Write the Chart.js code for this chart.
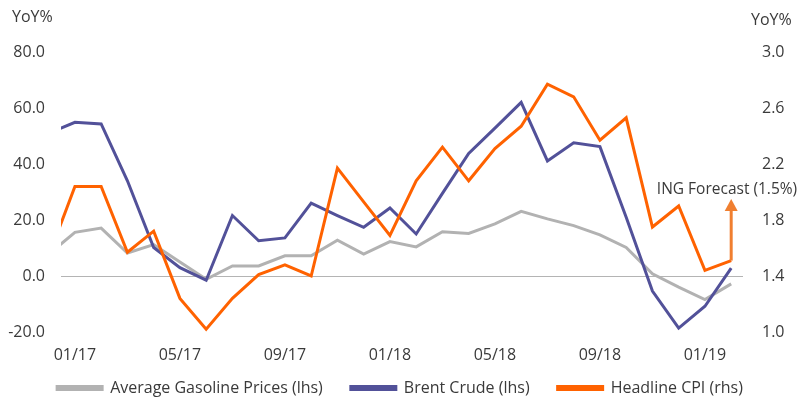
<!DOCTYPE html>
<html>
<head>
<meta charset="utf-8">
<script src="https://cdn.jsdelivr.net/npm/chart.js@4.4.1/dist/chart.umd.min.js"></script>
<style>
  html, body { margin: 0; padding: 0; background: #ffffff; }
  #wrap { width: 800px; height: 406px; position: relative; }
</style>
</head>
<body>
<div id="wrap"><canvas id="c" width="800" height="406"></canvas></div>
<script>
// Month labels, index -1 = 12/16 ... index 25 = 02/19
const months = ["12/16","01/17","02/17","03/17","04/17","05/17","06/17","07/17","08/17","09/17","10/17","11/17","12/17",
                "01/18","02/18","03/18","04/18","05/18","06/18","07/18","08/18","09/18","10/18","11/18","12/18",
                "01/19","02/19"];
const tickMonths = ["01/17","05/17","09/17","01/18","05/18","09/18","01/19"];

// Average Gasoline Prices, YoY% (lhs)
const gasoline = [7.7, 15.6, 17.1, 8.2, 11.2, 5.0, -1.2, 3.6, 3.6, 7.2, 7.2, 12.8, 7.8, 12.3, 10.4, 15.8, 15.2, 18.6, 23.1, 20.4, 18.0, 14.7, 10.2, 0.8, -4.0, -8.4, -2.8];
// Brent Crude, YoY% (lhs)
const brent = [50.9, 54.9, 54.3, 34.0, 10.2, 3.0, -1.5, 21.6, 12.6, 13.6, 26.0, 21.6, 17.4, 24.3, 15.0, 29.5, 43.8, 52.8, 62.0, 41.1, 47.6, 46.2, 21.0, -5.4, -18.6, -10.8, 2.8];
// Headline CPI, YoY% (rhs)
const cpi = [1.54, 2.04, 2.04, 1.57, 1.72, 1.24, 1.02, 1.24, 1.41, 1.48, 1.40, 2.17, 1.93, 1.69, 2.08, 2.32, 2.08, 2.31, 2.47, 2.77, 2.68, 2.37, 2.53, 1.75, 1.90, 1.44, 1.51];

// ING forecast arrow (rhs): from last CPI reading up to the tip
const forecastMonth = "02/19";
const forecastFrom = 1.51;
const forecastTip = 1.95;
const forecastText = "ING Forecast (1.5%)";

const leftTicks = [-20, 0, 20, 40, 60, 80];
const rightTicks = [1.0, 1.4, 1.8, 2.2, 2.6, 3.0];

const FONT = "'Open Sans', 'Noto Sans', sans-serif";
const TXT = "#3a3a3a";
const FS = 16;

function toPoints(arr) {
  return arr.map((v, i) => ({ x: i - 1, y: v }));
}
const tickIdx = tickMonths.map(m => months.indexOf(m) - 1);

const extras = {
  id: 'extras',
  afterLayout(chart) {
    // let the x tick labels overflow their (short) axis box
    chart.scales.x._computeLabelArea = () => null;
  },
  afterDraw(chart) {
    const ctx = chart.ctx;
    const xs = chart.scales.x, yr = chart.scales.y1;
    ctx.save();
    ctx.fillStyle = TXT;
    ctx.font = FS + "px " + FONT;
    ctx.textBaseline = 'middle';
    ctx.textAlign = 'left';
    ctx.fillText("YoY%", 12, 17);
    ctx.fillText("YoY%", 751, 20);

    // forecast arrow
    const fx = xs.getPixelForValue(months.indexOf(forecastMonth) - 1);
    const y0 = yr.getPixelForValue(forecastFrom);
    const y1 = yr.getPixelForValue(forecastTip);
    const col = "#f07f30";
    ctx.strokeStyle = col;
    ctx.fillStyle = col;
    ctx.lineWidth = 3;
    ctx.beginPath();
    ctx.moveTo(fx, y0);
    ctx.lineTo(fx, y1 + 11);
    ctx.stroke();
    ctx.beginPath();
    ctx.moveTo(fx, y1);
    ctx.lineTo(fx - 6.5, y1 + 12);
    ctx.lineTo(fx + 6.5, y1 + 12);
    ctx.closePath();
    ctx.fill();

    ctx.fillStyle = TXT;
    ctx.font = "15.5px " + FONT;
    ctx.textAlign = 'right';
    ctx.fillText(forecastText, fx + 66, y1 - 9);
    ctx.restore();
  }
};

new Chart(document.getElementById('c'), {
  type: 'line',
  data: {
    datasets: [
      { label: 'Average Gasoline Prices (lhs)', data: toPoints(gasoline), borderColor: '#b2b2b2', backgroundColor: '#b2b2b2', yAxisID: 'y', order: 3 },
      { label: 'Brent Crude (lhs)', data: toPoints(brent), borderColor: '#525199', backgroundColor: '#525199', yAxisID: 'y', order: 2 },
      { label: 'Headline CPI (rhs)', data: toPoints(cpi), borderColor: '#ff6200', backgroundColor: '#ff6200', yAxisID: 'y1', order: 1 }
    ]
  },
  options: {
    responsive: false,
    animation: false,
    devicePixelRatio: 1,
    layout: { padding: { top: 52, left: 0, right: 0, bottom: 0 } },
    elements: {
      line: { borderWidth: 3, tension: 0, borderJoinStyle: 'miter', borderCapStyle: 'butt' },
      point: { radius: 0, hoverRadius: 0 }
    },
    plugins: {
      tooltip: { enabled: false },
      legend: {
        position: 'bottom',
        labels: {
          boxWidth: 45, boxHeight: 3, padding: 28,
          color: TXT, font: { family: FONT, size: FS, lineHeight: 1 },
          sort: (a, b) => a.datasetIndex - b.datasetIndex
        }
      }
    },
    scales: {
      x: {
        type: 'linear',
        min: -0.53, max: 25.45,
        afterBuildTicks: (s) => { s.ticks = tickIdx.map(v => ({ value: v })); },
        afterFit: (s) => { s.height = 20; },
        ticks: {
          color: TXT, font: { family: FONT, size: FS }, padding: 14,
          maxRotation: 0, autoSkip: false,
          callback: (v) => months[v + 1]
        },
        grid: { display: false, drawTicks: false },
        border: { display: false }
      },
      y: {
        position: 'left',
        min: -20, max: 80,
        afterBuildTicks: (s) => { s.ticks = leftTicks.map(v => ({ value: v })); },
        afterFit: (s) => { s.width = 61; },
        ticks: { color: TXT, font: { family: FONT, size: FS }, padding: 16, callback: (v) => v.toFixed(1) },
        grid: {
          drawTicks: false,
          color: (c) => (c.tick && c.tick.value === 0) ? '#b4b4b4' : 'rgba(0,0,0,0)',
          lineWidth: 1
        },
        border: { display: false }
      },
      y1: {
        position: 'right',
        min: 1.0, max: 3.0,
        afterBuildTicks: (s) => { s.ticks = rightTicks.map(v => ({ value: v })); },
        afterFit: (s) => { s.width = 57; },
        ticks: { color: TXT, font: { family: FONT, size: FS }, padding: 19, callback: (v) => v.toFixed(1) },
        grid: { display: false, drawTicks: false },
        border: { display: false }
      }
    }
  },
  plugins: [extras]
});
</script>
</body>
</html>
